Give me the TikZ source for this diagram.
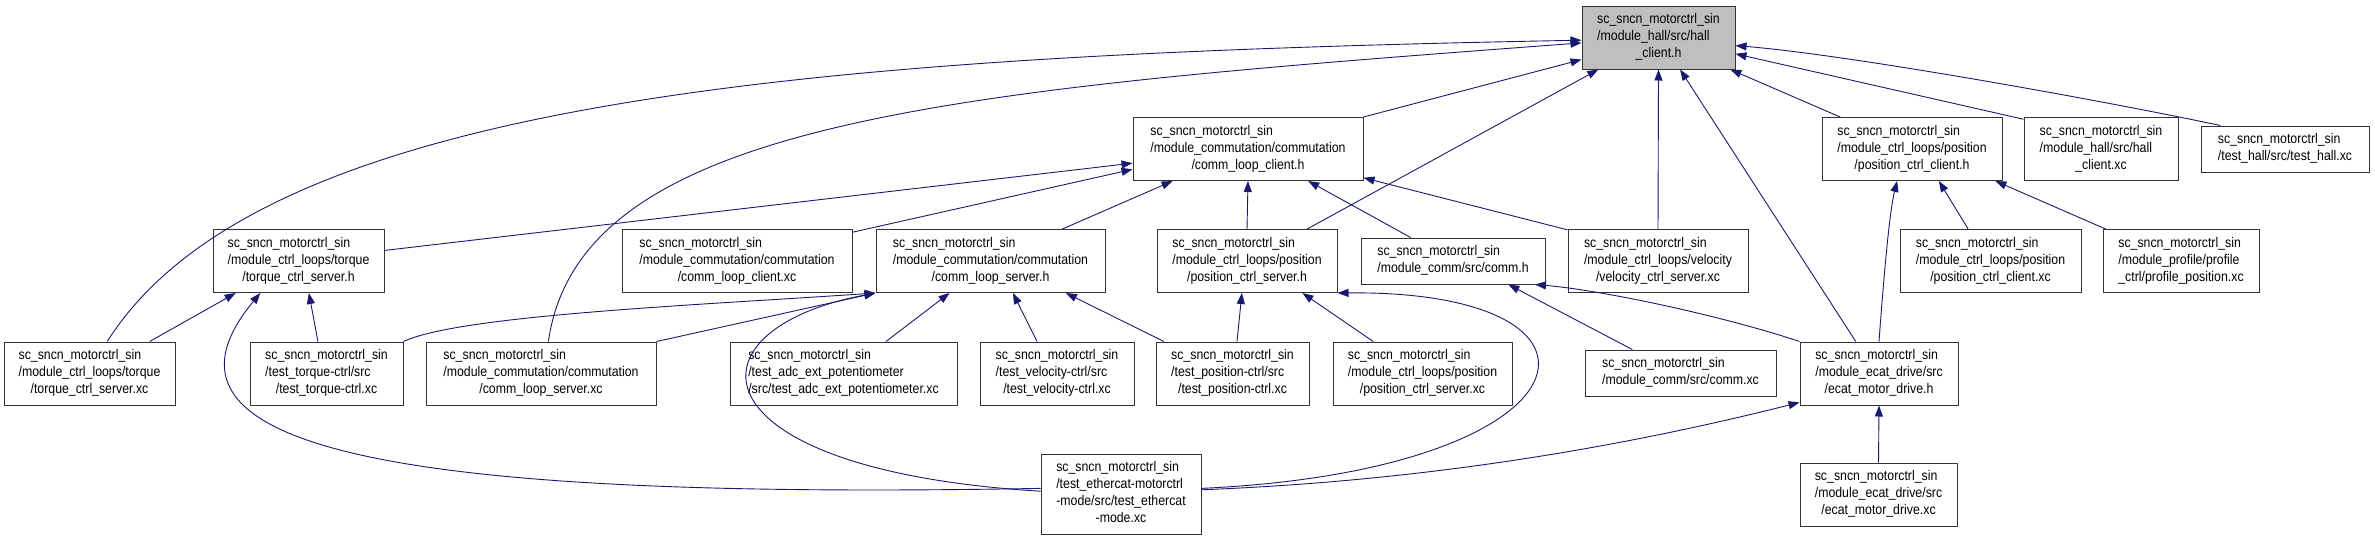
\documentclass[tikz,border=0pt]{standalone}
\usepackage{fontspec}
\setmainfont{Liberation Sans}[FakeStretch=0.88]
\usetikzlibrary{arrows.meta}
\definecolor{edgeblue}{rgb}{0.098,0.098,0.439}
\definecolor{rootgray}{rgb}{0.75,0.75,0.75}
\newcommand{\incfile}[2]{\begin{tabular}{@{}l@{}}#1\\\multicolumn{1}{@{}c@{}}{#2}\end{tabular}}
\newcommand{\scsin}{sc\_sncn\_motorctrl\_sin}

\begin{document}
\begin{tikzpicture}[x=1pt,y=-1pt,
  file/.style={draw=black!80,line width=1pt,fill=white,inner xsep=3pt,inner ysep=6pt,
    font=\fontsize{14}{17}\selectfont},
  edge/.style={draw=edgeblue,line width=0.9pt,-{Triangle[length=11pt,width=8pt]}}]
  \useasboundingbox (0,0) rectangle (2375,541);

  % the header itself
  \node[file,fill=rootgray,minimum width=153pt] (r) at (1658.5,37.5)
    {\incfile{\scsin\\/module\_hall/src/hall}{\_client.h}};

  % first row
  \node[file,minimum width=230pt] (clh) at (1248,149)
    {\incfile{\scsin\\/module\_commutation/commutation}{/comm\_loop\_client.h}};
  \node[file,minimum width=180pt] (pch) at (1912,149)
    {\incfile{\scsin\\/module\_ctrl\_loops/position}{/position\_ctrl\_client.h}};
  \node[file,minimum width=154pt] (hx) at (2101,149)
    {\incfile{\scsin\\/module\_hall/src/hall}{\_client.xc}};
  \node[file,minimum width=168pt] (thx) at (2285,149)
    {\incfile{\scsin}{/test\_hall/src/test\_hall.xc}};

  % second row
  \node[file,minimum width=171pt] (tsh) at (298.5,261)
    {\incfile{\scsin\\/module\_ctrl\_loops/torque}{/torque\_ctrl\_server.h}};
  \node[file,minimum width=230pt] (clx) at (737,261)
    {\incfile{\scsin\\/module\_commutation/commutation}{/comm\_loop\_client.xc}};
  \node[file,minimum width=229pt] (csh) at (990.5,261)
    {\incfile{\scsin\\/module\_commutation/commutation}{/comm\_loop\_server.h}};
  \node[file,minimum width=180pt] (psh) at (1247,261)
    {\incfile{\scsin\\/module\_ctrl\_loops/position}{/position\_ctrl\_server.h}};
  \node[file,minimum width=184pt] (ch) at (1453,261)
    {\incfile{\scsin}{/module\_comm/src/comm.h}};
  \node[file,minimum width=180pt] (vsx) at (1658,261)
    {\incfile{\scsin\\/module\_ctrl\_loops/velocity}{/velocity\_ctrl\_server.xc}};
  \node[file,minimum width=181pt] (pcx) at (1990.5,261)
    {\incfile{\scsin\\/module\_ctrl\_loops/position}{/position\_ctrl\_client.xc}};
  \node[file,minimum width=156pt] (ppx) at (2181,261)
    {\incfile{\scsin\\/module\_profile/profile}{\_ctrl/profile\_position.xc}};

  % third row
  \node[file,minimum width=171pt] (tx) at (89.5,373.5)
    {\incfile{\scsin\\/module\_ctrl\_loops/torque}{/torque\_ctrl\_server.xc}};
  \node[file,minimum width=153pt] (ttx) at (326.5,373.5)
    {\incfile{\scsin\\/test\_torque-ctrl/src}{/test\_torque-ctrl.xc}};
  \node[file,minimum width=230pt] (csx) at (541,373.5)
    {\incfile{\scsin\\/module\_commutation/commutation}{/comm\_loop\_server.xc}};
  \node[file,minimum width=227pt] (tax) at (843.5,373.5)
    {\incfile{\scsin\\/test\_adc\_ext\_potentiometer}{/src/test\_adc\_ext\_potentiometer.xc}};
  \node[file,minimum width=154pt] (tvx) at (1057,373.5)
    {\incfile{\scsin\\/test\_velocity-ctrl/src}{/test\_velocity-ctrl.xc}};
  \node[file,minimum width=153pt] (tpx) at (1232.5,373.5)
    {\incfile{\scsin\\/test\_position-ctrl/src}{/test\_position-ctrl.xc}};
  \node[file,minimum width=179pt] (psx) at (1422.5,373.5)
    {\incfile{\scsin\\/module\_ctrl\_loops/position}{/position\_ctrl\_server.xc}};
  \node[file,minimum width=191pt] (cmx) at (1680.5,373)
    {\incfile{\scsin}{/module\_comm/src/comm.xc}};
  \node[file,minimum width=158pt] (edh) at (1879,373.5)
    {\incfile{\scsin\\/module\_ecat\_drive/src}{/ecat\_motor\_drive.h}};

  % last row
  \node[file,minimum width=160pt] (tex) at (1121,494)
    {\incfile{\scsin\\/test\_ethercat-motorctrl\\-mode/src/test\_ethercat}{-mode.xc}};
  \node[file,minimum width=157pt] (edx) at (1878.5,494.5)
    {\incfile{\scsin\\/module\_ecat\_drive/src}{/ecat\_motor\_drive.xc}};

  % straight includes
  \foreach \a/\b in {clh.north east/r.196, psh.28/r.208, vsx.north/r.south,
      edh.126/r.304, pch.156/r.336, hx.159/r.348,
      tsh.7/clh.187, clx.14/clh.190, csh.24/clh.203, psh.north/clh.south,
      ch.151/clh.332, vsx.161/clh.346,
      tx.28/tsh.207, ttx.105/tsh.288,
      csx.north east/csh.south west, tax.37/csh.218, tvx.122/csh.305, tpx.155/csh.337,
      tpx.82/psh.261, psx.147/psh.330, cmx.154/ch.337,
      pcx.125/pch.310, ppx.157/pch.339, edx.north/edh.south}
    \draw[edge] (\a) -- (\b);

  % curved includes
  \draw[edge] (tx.61) .. controls (260,100) and (800,55) .. (r.182);
  \draw[edge] (csx.77) .. controls (580,120) and (950,90) .. (r.184);
  \draw[edge] (thx.160) .. controls (2100,100) and (1850,55) .. (r.354);
  \draw[edge] (tex.176) .. controls (400,500) and (130,450) .. (tsh.220);
  \draw[edge] (ttx.north east) .. controls (460,315) and (700,305) .. (csh.south west);
  \draw[edge] (tex.178) .. controls (690,470) and (680,330) .. (csh.south west);
  \draw[edge] (tex.4) .. controls (1600,470) and (1640,290) .. (psh.south east);
  \draw[edge] (edh.north west) .. controls (1720,315) and (1600,290) .. (ch.344);
  \draw[edge] (edh.north) .. controls (1885,260) and (1890,210) .. (pch.245);
  \draw[edge] (tex.3) .. controls (1450,480) and (1650,440) .. (edh.200);
\end{tikzpicture}
\end{document}
